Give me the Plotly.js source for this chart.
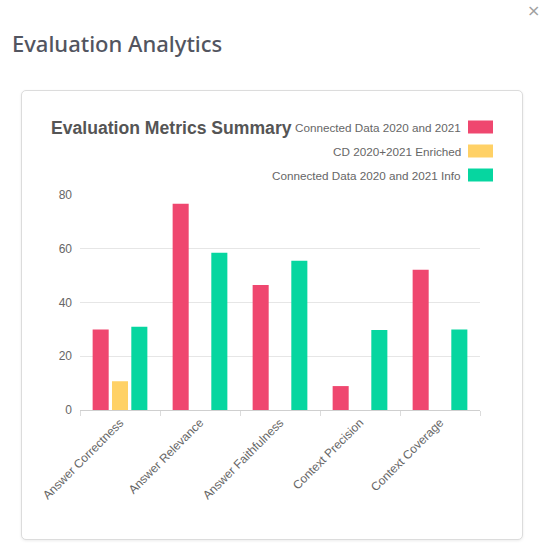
<!DOCTYPE html>
<html>
<head>
<meta charset="utf-8">
<script src="https://cdn.plot.ly/plotly-3.0.1.min.js"></script>
<style>
  html, body { margin: 0; padding: 0; background: #fff; width: 541px; height: 556px; overflow: hidden; }
  #pageTitle { position: absolute; left: 12px; top: 28px; font-family: "Noto Sans", sans-serif; font-weight: 500; font-size: 22px; color: #525560; line-height: 30px; white-space: nowrap; }
  #close { position: absolute; left: 527px; top: 0px; font-family: "DejaVu Sans", sans-serif; font-size: 16px; color: #a0a0a0; line-height: 22px; }
  #card { position: absolute; left: 21px; top: 90px; width: 500px; height: 448px; border: 1px solid #dcdcdc; border-radius: 5px; box-shadow: 0 1px 3px rgba(0,0,0,0.08); background: #fff; }
  #chart { position: absolute; left: 0; top: 0; width: 541px; height: 556px; }
</style>
</head>
<body>
<div id="pageTitle">Evaluation Analytics</div>
<div id="close">×</div>
<div id="card"></div>
<div id="chart"></div>
<script>
// ---- data ----
const categories = ["Answer Correctness", "Answer Relevance", "Answer Faithfulness", "Context Precision", "Context Coverage"];
const seriesNames = ["Connected Data 2020 and 2021", "CD 2020+2021 Enriched", "Connected Data 2020 and 2021 Info"];
const seriesColors = ["#EF476F", "#FFD166", "#06D6A0"];
const connectedData = [30.0, 76.7, 46.5, 8.9, 52.2];
const cdEnriched = [10.7, null, null, null, null];
const connectedDataInfo = [31.0, 58.5, 55.5, 29.8, 30.0];
const yTicks = [0, 20, 40, 60, 80];
const chartTitle = "Evaluation Metrics Summary";

const seriesValues = [connectedData, cdEnriched, connectedDataInfo];

// ---- layout geometry (pixels) ----
const W = 541, H = 556;
const plotL = 80, plotR = 480, plotT = 195, plotB = 410;
const px2x = p => (p - plotL) / (plotR - plotL);
const px2y = p => (plotB - p) / (plotB - plotT);

const traces = seriesValues.map((vals, i) => ({
  type: "bar",
  name: seriesNames[i],
  x: categories,
  y: vals,
  marker: { color: seriesColors[i] },
  hoverinfo: "x+y+name"
}));

const legendRows = [127, 151, 175];
const annotations = seriesNames.map((n, i) => ({
  xref: "paper", yref: "paper",
  x: px2x(463), y: px2y(legendRows[i]),
  xanchor: "right", yanchor: "middle",
  text: n, showarrow: false,
  font: { family: "Liberation Sans, Arial, sans-serif", size: 11.7, color: "#666" }
}));
const shapes = seriesNames.map((n, i) => ({
  type: "rect", xref: "paper", yref: "paper",
  x0: px2x(468), x1: px2x(493),
  y0: px2y(legendRows[i] - 6.5), y1: px2y(legendRows[i] + 6.5),
  fillcolor: seriesColors[i], line: { width: 0 }
}));

const layout = {
  width: W, height: H,
  margin: { l: plotL, r: W - plotR, t: plotT, b: H - plotB, pad: 0 },
  paper_bgcolor: "rgba(0,0,0,0)",
  plot_bgcolor: "rgba(0,0,0,0)",
  showlegend: false,
  barmode: "group",
  bargap: 0.275,
  bargroupgap: 0.17,
  title: {
    text: "<b>" + chartTitle + "</b>",
    xref: "container", yref: "container",
    x: 51 / W, xanchor: "left",
    y: 1 - 128 / H, yanchor: "middle",
    font: { family: "Liberation Sans, Arial, sans-serif", size: 17.6, color: "#555" }
  },
  xaxis: {
    type: "category",
    tickangle: -45,
    tickson: "boundaries",
    ticks: "outside", ticklen: 5, tickcolor: "#dcdcdc",
    showgrid: false,
    showline: true, linecolor: "#cfcfcf", linewidth: 1,
    tickfont: { family: "Liberation Sans, Arial, sans-serif", size: 12, color: "#666" },
    fixedrange: true
  },
  yaxis: {
    range: [0, 80],
    tickvals: yTicks,
    ticks: "", ticklabelstandoff: 7,
    showgrid: true, gridcolor: "#e6e6e6", gridwidth: 1,
    zeroline: true, zerolinecolor: "#cfcfcf", zerolinewidth: 1,
    showline: false,
    tickfont: { family: "Liberation Sans, Arial, sans-serif", size: 12, color: "#666" },
    fixedrange: true
  },
  annotations: annotations,
  shapes: shapes
};

Plotly.newPlot("chart", traces, layout, { displayModeBar: false, staticPlot: false });
</script>
</body>
</html>
